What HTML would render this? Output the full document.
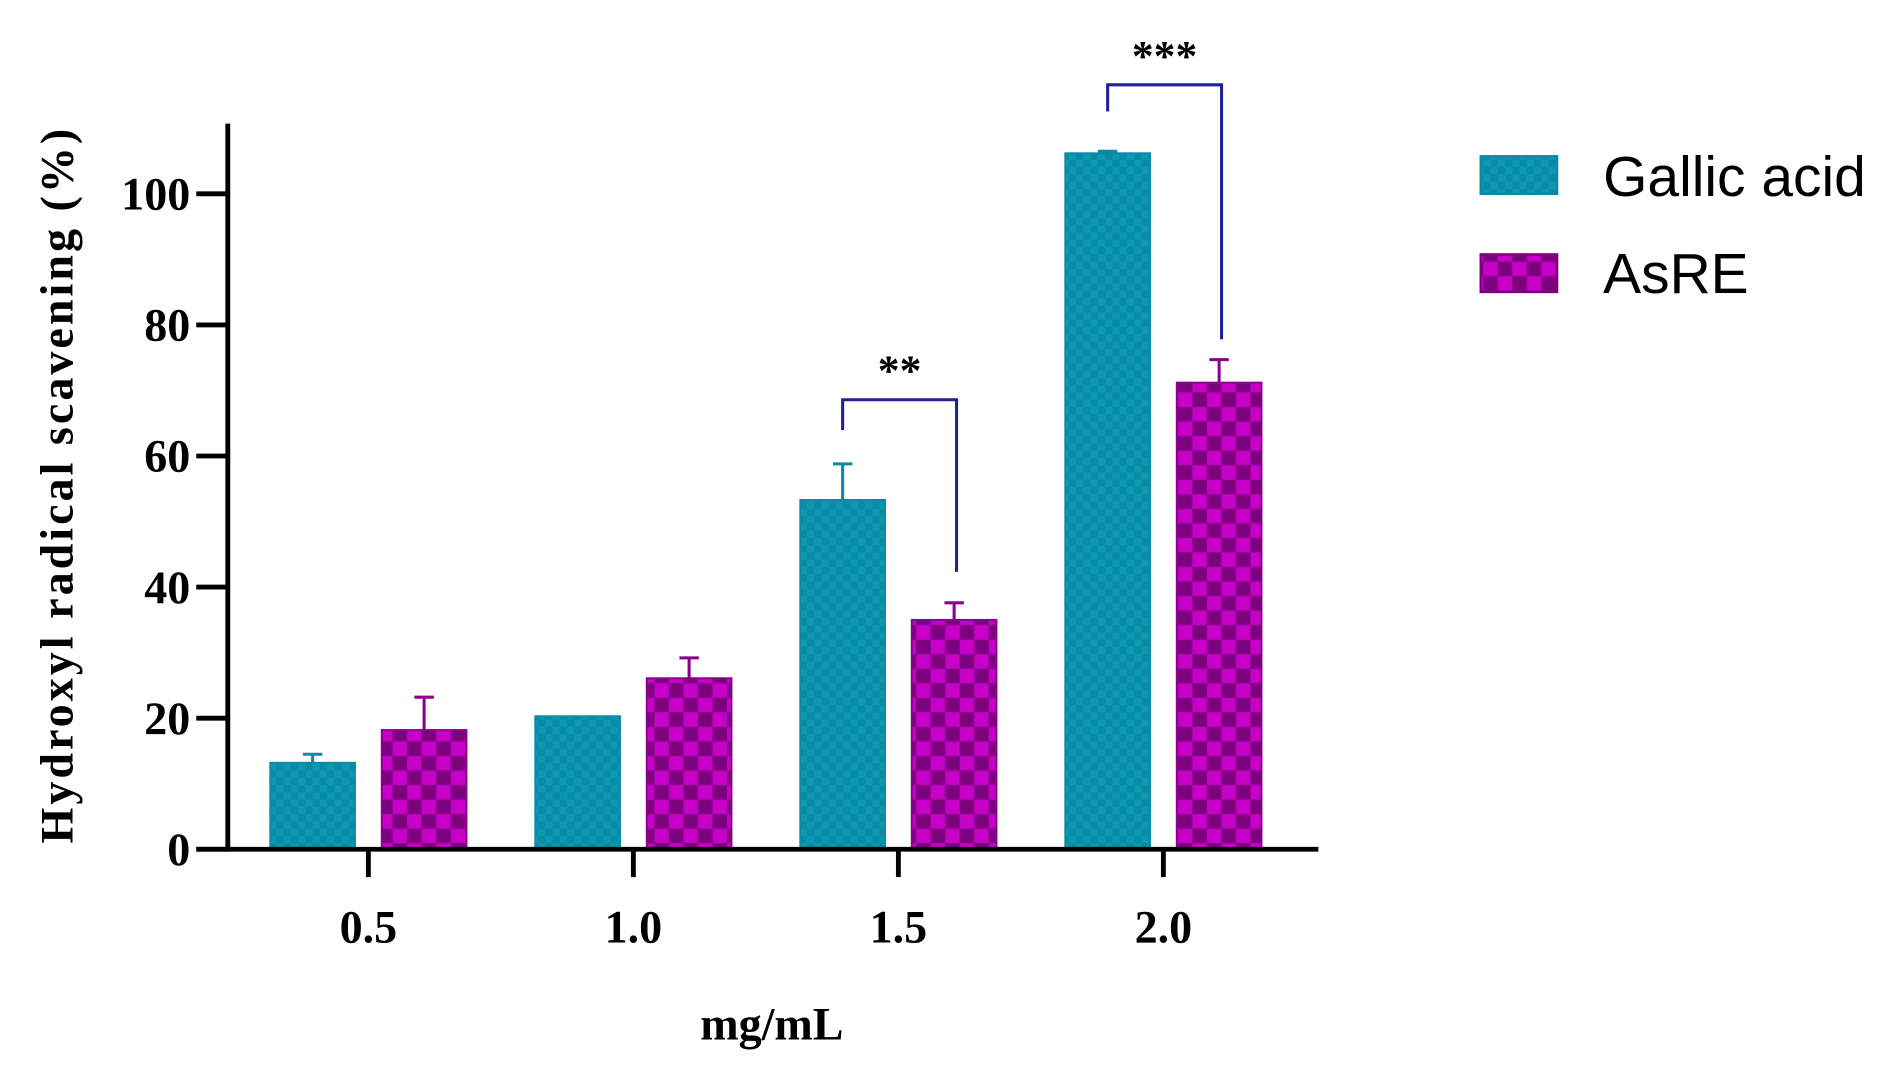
<!DOCTYPE html>
<html><head><meta charset="utf-8"><style>
html,body{margin:0;padding:0;background:#fff;}
svg{display:block;}
text{font-family:"Liberation Serif",serif;font-weight:bold;fill:#000;}
.leg{font-family:"Liberation Sans",sans-serif;font-weight:normal;}
</style></head><body>
<svg id="chart" width="1900" height="1077" viewBox="0 0 1568 889" preserveAspectRatio="none" xmlns="http://www.w3.org/2000/svg">
<defs>
<pattern id="pt" width="12" height="12" patternUnits="userSpaceOnUse">
<rect width="12" height="12" fill="#0b8aa3"/><rect width="6" height="6" fill="#0a98b3"/><rect x="6" y="6" width="6" height="6" fill="#0a98b3"/>
</pattern>
<pattern id="pm" width="24" height="24" patternUnits="userSpaceOnUse">
<rect width="24" height="24" fill="#7d007f"/><rect width="12" height="12" fill="#c700c7"/><rect x="12" y="12" width="12" height="12" fill="#c700c7"/>
</pattern>
</defs>
<g id="marks"></g>
<g id="axes"></g>
<text x="637" y="858" text-anchor="middle" font-size="38">mg/mL</text>
<text transform="translate(60,400) rotate(-90)" text-anchor="middle" font-size="38" letter-spacing="2.5">Hydroxyl radical scavening (%)</text>
<g>
<rect x="1222" y="129" width="63" height="31" fill="url(#pt)" stroke="#0a8aa6" stroke-width="2"/>
<text class="leg" x="1323" y="162" font-size="47">Gallic acid</text>
<rect x="1222" y="210" width="63" height="31" fill="url(#pm)" stroke="#7d007f" stroke-width="2"/>
<text class="leg" x="1323" y="242" font-size="47">AsRE</text>
</g>
</svg>
<script>
const categories = ["0.5","1.0","1.5","2.0"];
const gallic = [13.2, 20.3, 53.3, 106.2];
const gallicErr = [1.3, 0, 5.5, 0.3];
const asre = [18.2, 26.1, 35.0, 71.2];
const asreErr = [5.0, 3.1, 2.6, 3.5];
const yTicks = [0,20,40,60,80,100];
const sig = [{cat:2, label:"**", top:330, l:355, r:472},{cat:3, label:"***", top:70, l:92, r:280}];

const NS="http://www.w3.org/2000/svg";
const y0=701, pxPerUnit=5.41;
const yScale=v=>y0-v*pxPerUnit;
const xStart=304, xStep=218.7;
const xScale=i=>xStart+i*xStep;
const barW=70, off=46;
const marks=document.getElementById('marks'), axes=document.getElementById('axes');
function mk(tag,attrs,parent){const e=document.createElementNS(NS,tag);for(const k in attrs)e.setAttribute(k,attrs[k]);parent.appendChild(e);return e;}

categories.forEach((c,i)=>{
  const cx=xScale(i);
  [[gallic,gallicErr,-off,'url(#pt)','#0a8aa6','gallic'],[asre,asreErr,off,'url(#pm)','#8a008c','asre']].forEach(([vals,errs,o,fill,col,nm])=>{
    const v=vals[i], e=errs[i], x=cx+o;
    if(e>0){
      const l=mk('line',{x1:x,x2:x,y1:yScale(v),y2:yScale(v+e),stroke:col,'stroke-width':2.5},marks);
      
      
      const cap=mk('line',{x1:x-8,x2:x+8,y1:yScale(v+e),y2:yScale(v+e),stroke:col,'stroke-width':2.5},marks);
      
      
    }
    const r=mk('rect',{x:x-barW/2,y:yScale(v),width:barW,height:v*pxPerUnit,fill:fill,stroke:col,'stroke-width':1.5},marks);
    
    
  });
  const t=mk('line',{x1:cx,x2:cx,y1:y0,y2:724,stroke:'#000','stroke-width':4},axes);
  
  
  const lb=mk('text',{x:cx,y:778,'text-anchor':'middle','font-size':38},axes);
  lb.textContent=c;
  
  
});
yTicks.forEach(v=>{
  const t=mk('line',{x1:162,x2:188,y1:yScale(v),y2:yScale(v),stroke:'#000','stroke-width':4},axes);
  
  
  const lb=mk('text',{x:157,y:yScale(v)+13,'text-anchor':'end','font-size':38},axes);
  lb.textContent=v;
  
  
});
const ya=mk('line',{x1:188,x2:188,y1:102,y2:703,stroke:'#000','stroke-width':4},axes);


const xa=mk('line',{x1:162,x2:1088,y1:y0,y2:y0,stroke:'#000','stroke-width':4},axes);


sig.forEach(s=>{
  const lx=xScale(s.cat)-off, rx=xScale(s.cat)+off+2;
  const p=mk('path',{d:`M${lx},${s.l} V${s.top} H${rx} V${s.r}`,fill:'none',stroke:'#1f1f9a','stroke-width':2.5},axes);
  
  
  const t=mk('text',{x:(lx+rx)/2,y:s.top-12,'text-anchor':'middle','font-size':36},axes);
  t.textContent=s.label;
  
  
});
</script>
</body></html>
